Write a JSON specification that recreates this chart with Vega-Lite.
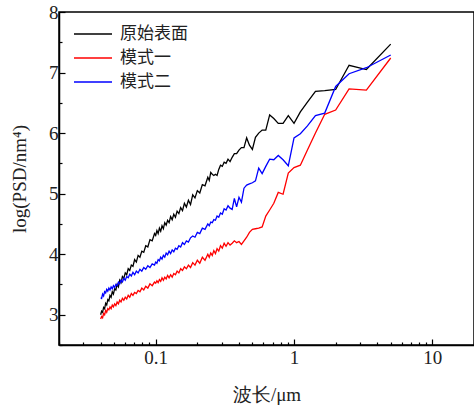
{
"$schema":"https://vega.github.io/schema/vega-lite/v6.json",
"width":415,"height":333,
"autosize":{"type":"none"},
"padding":{"left":59,"top":12,"right":0,"bottom":62},
"background":"white",
"config":{"view":{"stroke":"black","strokeWidth":1.5},"font":"Liberation Serif"},
"data":{"values":[
{"w":0.04,"a":3.00,"b":2.93,"c":3.28},
{"w":0.04065,"a":3.06,"b":2.97,"c":3.27},
{"w":0.04132,"a":3.04,"b":2.95,"c":3.34},
{"w":0.04202,"a":3.12,"b":3.02,"c":3.31},
{"w":0.04274,"a":3.10,"b":3.00,"c":3.38},
{"w":0.04348,"a":3.19,"b":3.07,"c":3.36},
{"w":0.04425,"a":3.16,"b":3.04,"c":3.42},
{"w":0.04505,"a":3.25,"b":3.10,"c":3.39},
{"w":0.04587,"a":3.23,"b":3.08,"c":3.44},
{"w":0.04673,"a":3.32,"b":3.13,"c":3.41},
{"w":0.04762,"a":3.29,"b":3.10,"c":3.46},
{"w":0.04854,"a":3.38,"b":3.16,"c":3.43},
{"w":0.0495,"a":3.34,"b":3.13,"c":3.48},
{"w":0.05051,"a":3.43,"b":3.18,"c":3.45},
{"w":0.05155,"a":3.41,"b":3.15,"c":3.50},
{"w":0.05263,"a":3.50,"b":3.21,"c":3.48},
{"w":0.05376,"a":3.46,"b":3.18,"c":3.54},
{"w":0.05495,"a":3.57,"b":3.24,"c":3.51},
{"w":0.05618,"a":3.53,"b":3.21,"c":3.57},
{"w":0.05747,"a":3.63,"b":3.27,"c":3.54},
{"w":0.05882,"a":3.60,"b":3.24,"c":3.60},
{"w":0.06024,"a":3.69,"b":3.29,"c":3.57},
{"w":0.06173,"a":3.66,"b":3.26,"c":3.63},
{"w":0.06329,"a":3.76,"b":3.32,"c":3.61},
{"w":0.06494,"a":3.73,"b":3.29,"c":3.67},
{"w":0.06667,"a":3.82,"b":3.35,"c":3.64},
{"w":0.06849,"a":3.80,"b":3.32,"c":3.70},
{"w":0.07042,"a":3.91,"b":3.37,"c":3.66},
{"w":0.07246,"a":3.87,"b":3.35,"c":3.72},
{"w":0.07463,"a":3.98,"b":3.40,"c":3.69},
{"w":0.07692,"a":3.95,"b":3.38,"c":3.75},
{"w":0.07937,"a":4.05,"b":3.44,"c":3.72},
{"w":0.08197,"a":4.03,"b":3.41,"c":3.78},
{"w":0.08475,"a":4.14,"b":3.47,"c":3.75},
{"w":0.08772,"a":4.12,"b":3.44,"c":3.81},
{"w":0.09091,"a":4.24,"b":3.51,"c":3.78},
{"w":0.09434,"a":4.22,"b":3.48,"c":3.84},
{"w":0.09804,"a":4.34,"b":3.54,"c":3.82},
{"w":0.1,"a":4.31,"b":3.52,"c":3.87},
{"w":0.10204,"a":4.39,"b":3.56,"c":3.85},
{"w":0.10417,"a":4.34,"b":3.53,"c":3.91},
{"w":0.10638,"a":4.43,"b":3.58,"c":3.89},
{"w":0.1087,"a":4.38,"b":3.55,"c":3.95},
{"w":0.11111,"a":4.47,"b":3.61,"c":3.92},
{"w":0.11364,"a":4.42,"b":3.57,"c":3.98},
{"w":0.11628,"a":4.52,"b":3.62,"c":3.95},
{"w":0.11905,"a":4.48,"b":3.59,"c":4.02},
{"w":0.12195,"a":4.56,"b":3.65,"c":3.99},
{"w":0.125,"a":4.52,"b":3.61,"c":4.05},
{"w":0.12821,"a":4.62,"b":3.66,"c":4.01},
{"w":0.13158,"a":4.57,"b":3.62,"c":4.07},
{"w":0.13514,"a":4.66,"b":3.68,"c":4.04},
{"w":0.13889,"a":4.61,"b":3.66,"c":4.10},
{"w":0.14286,"a":4.71,"b":3.72,"c":4.08},
{"w":0.14706,"a":4.67,"b":3.69,"c":4.14},
{"w":0.15152,"a":4.77,"b":3.76,"c":4.12},
{"w":0.15625,"a":4.72,"b":3.73,"c":4.19},
{"w":0.16129,"a":4.84,"b":3.79,"c":4.16},
{"w":0.16667,"a":4.78,"b":3.76,"c":4.22},
{"w":0.17241,"a":4.89,"b":3.82,"c":4.20},
{"w":0.17857,"a":4.82,"b":3.78,"c":4.27},
{"w":0.18519,"a":4.98,"b":3.86,"c":4.30},
{"w":0.19231,"a":4.93,"b":3.82,"c":4.28},
{"w":0.2,"a":5.05,"b":3.90,"c":4.36},
{"w":0.20833,"a":5.01,"b":3.85,"c":4.34},
{"w":0.21739,"a":5.15,"b":3.95,"c":4.43},
{"w":0.22727,"a":5.13,"b":3.90,"c":4.41},
{"w":0.2381,"a":5.27,"b":4.00,"c":4.50},
{"w":0.2439,"a":5.22,"b":3.95,"c":4.47},
{"w":0.25,"a":5.35,"b":4.02,"c":4.53},
{"w":0.25641,"a":5.32,"b":3.98,"c":4.52},
{"w":0.26316,"a":5.30,"b":4.06,"c":4.57},
{"w":0.27027,"a":5.32,"b":4.01,"c":4.56},
{"w":0.27778,"a":5.30,"b":4.09,"c":4.63},
{"w":0.28571,"a":5.40,"b":4.05,"c":4.61},
{"w":0.29412,"a":5.47,"b":4.14,"c":4.68},
{"w":0.30303,"a":5.45,"b":4.10,"c":4.66},
{"w":0.3125,"a":5.52,"b":4.18,"c":4.75},
{"w":0.32258,"a":5.50,"b":4.13,"c":4.73},
{"w":0.33333,"a":5.57,"b":4.19,"c":4.80},
{"w":0.34483,"a":5.53,"b":4.15,"c":4.76},
{"w":0.35714,"a":5.60,"b":4.18,"c":4.74},
{"w":0.37037,"a":5.66,"b":4.22,"c":4.92},
{"w":0.38462,"a":5.66,"b":4.19,"c":4.78},
{"w":0.4,"a":5.72,"b":4.21,"c":4.94},
{"w":0.41667,"a":5.76,"b":4.16,"c":4.86},
{"w":0.43478,"a":5.76,"b":4.22,"c":5.09},
{"w":0.45455,"a":5.92,"b":4.28,"c":5.14},
{"w":0.47619,"a":5.80,"b":4.36,"c":5.16},
{"w":0.5,"a":5.73,"b":4.41,"c":5.18},
{"w":0.52632,"a":5.93,"b":4.42,"c":5.21},
{"w":0.55556,"a":6.00,"b":4.43,"c":5.42},
{"w":0.58824,"a":6.05,"b":4.45,"c":5.33},
{"w":0.625,"a":6.05,"b":4.63,"c":5.45},
{"w":0.66667,"a":6.30,"b":4.73,"c":5.57},
{"w":0.71429,"a":6.24,"b":4.84,"c":5.56},
{"w":0.76923,"a":6.16,"b":5.02,"c":5.63},
{"w":0.83333,"a":6.16,"b":4.99,"c":5.56},
{"w":0.90909,"a":6.29,"b":5.34,"c":5.46},
{"w":1,"a":6.16,"b":5.43,"c":5.92},
{"w":1.11111,"a":6.35,"b":5.47,"c":5.99},
{"w":1.25,"a":6.51,"b":5.72,"c":6.12},
{"w":1.42857,"a":6.69,"b":6.00,"c":6.29},
{"w":1.66667,"a":6.70,"b":6.31,"c":6.33},
{"w":2,"a":6.72,"b":6.38,"c":6.77},
{"w":2.5,"a":7.12,"b":6.73,"c":6.98},
{"w":3.33333,"a":7.05,"b":6.71,"c":7.08},
{"w":5,"a":7.47,"b":7.24,"c":7.29}
]},
"transform":[{"fold":["a","b","c"],"as":["series","v"]}],
"mark":{"type":"line","strokeWidth":1.3,"clip":true},
"encoding":{
"x":{"field":"w","type":"quantitative","scale":{"type":"log","domain":[0.02,20]},
"axis":{"title":"波长/μm","titleFont":"Liberation Serif","titleFontSize":19,"titleFontWeight":"normal","titleColor":"#222","titlePadding":15,
"values":[0.02,0.03,0.04,0.05,0.06,0.07,0.08,0.09,0.1,0.2,0.3,0.4,0.5,0.6,0.7,0.8,0.9,1,2,3,4,5,6,7,8,9,10,20],
"labelExpr":"datum.value==0.1?'0.1':datum.value==1?'1':datum.value==10?'10':''",
"labelFont":"Liberation Serif","labelFontSize":19,"labelColor":"#222","labelPadding":9,"labelFlush":false,"labelOverlap":false,
"grid":false,"domainColor":"black","domainWidth":1.5,"tickColor":"black","tickWidth":1.2,
"tickSize":{"condition":{"test":"datum.value==0.1||datum.value==1||datum.value==10","value":-6},"value":-3}}},
"y":{"field":"v","type":"quantitative","scale":{"domain":[2.5,8],"nice":false,"zero":false},
"axis":{"title":"log(PSD/nm⁴)","titleFont":"Liberation Serif","titleFontSize":19,"titleFontWeight":"normal","titleColor":"#222","titlePadding":19,
"values":[2.5,3,3.5,4,4.5,5,5.5,6,6.5,7,7.5,8],
"labelExpr":"datum.value%1==0?format(datum.value,'d'):''",
"labelFont":"Liberation Serif","labelFontSize":19,"labelColor":"#222","labelPadding":7,"labelFlush":false,"labelOverlap":false,
"grid":false,"domainColor":"black","domainWidth":1.5,"tickColor":"black","tickWidth":1.2,
"tickSize":{"condition":{"test":"datum.value%1==0","value":-6},"value":-3}}},
"color":{"field":"series","type":"nominal","scale":{"domain":["a","b","c"],"range":["black","red","blue"]},
"legend":{"orient":"none","legendX":14,"legendY":11,"title":null,"symbolType":"stroke","symbolSize":1444,"symbolStrokeWidth":1.5,
"labelExpr":"datum.label=='a'?'原始表面':datum.label=='b'?'模式一':'模式二'",
"labelFont":"Noto Sans CJK SC","labelFontSize":17,"labelColor":"#222","labelOffset":7,"clipHeight":22,"rowPadding":2}}
}
}
